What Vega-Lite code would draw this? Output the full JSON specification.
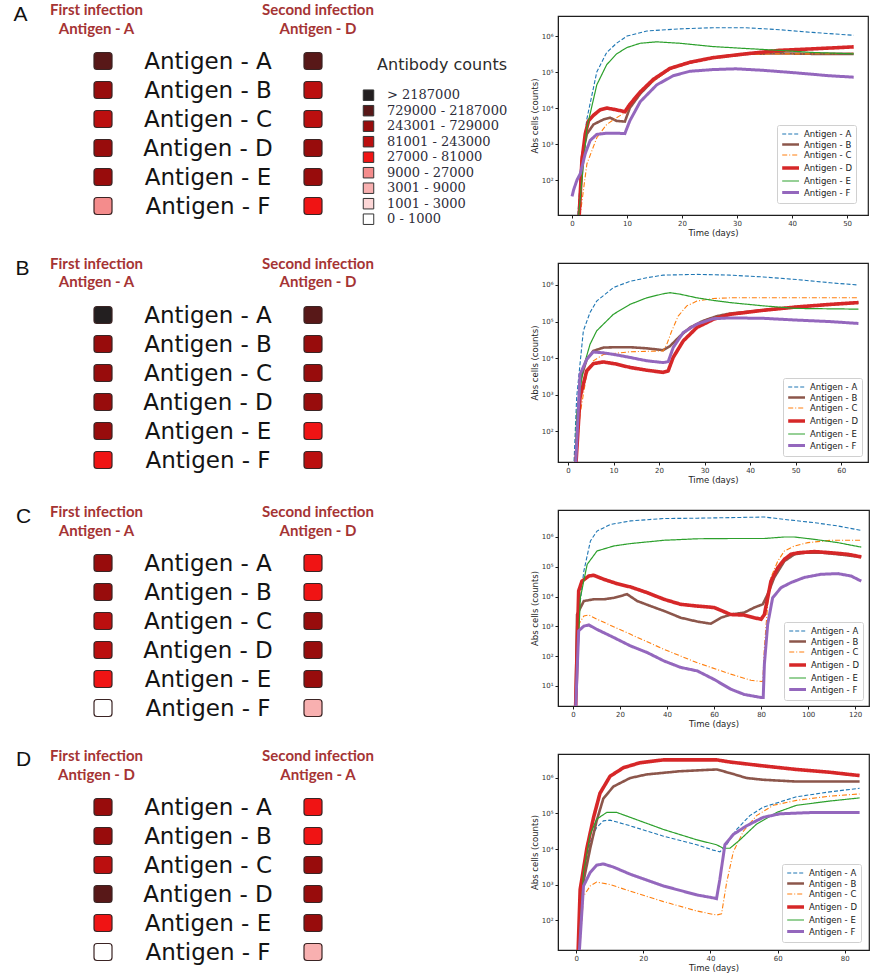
{
  "$schema": "https://vega.github.io/schema/vega-lite/v6.json",
  "padding": {"top": 2, "left": 0, "right": 0, "bottom": 0},
  "background": "white",
  "bounds": "flush",
  "columns": 2,
  "spacing": {"row": 48, "column": 142},
  "config": {"view": {"stroke": null}, "font": "DejaVu Sans"},
  "resolve": {"scale": {"color": "independent", "strokeDash": "independent", "strokeWidth": "independent"}, "legend": {"color": "independent", "strokeDash": "independent", "strokeWidth": "independent"}},
  "datasets": {
    "sq": [
      {"panel": "A", "antigen": "Antigen - A", "infection": "first", "bin": "729000 - 2187000"},
      {"panel": "A", "antigen": "Antigen - B", "infection": "first", "bin": "243001 - 729000"},
      {"panel": "A", "antigen": "Antigen - C", "infection": "first", "bin": "81001 - 243000"},
      {"panel": "A", "antigen": "Antigen - D", "infection": "first", "bin": "243001 - 729000"},
      {"panel": "A", "antigen": "Antigen - E", "infection": "first", "bin": "243001 - 729000"},
      {"panel": "A", "antigen": "Antigen - F", "infection": "first", "bin": "9000 - 27000"},
      {"panel": "A", "antigen": "Antigen - A", "infection": "second", "bin": "729000 - 2187000"},
      {"panel": "A", "antigen": "Antigen - B", "infection": "second", "bin": "81001 - 243000"},
      {"panel": "A", "antigen": "Antigen - C", "infection": "second", "bin": "81001 - 243000"},
      {"panel": "A", "antigen": "Antigen - D", "infection": "second", "bin": "243001 - 729000"},
      {"panel": "A", "antigen": "Antigen - E", "infection": "second", "bin": "243001 - 729000"},
      {"panel": "A", "antigen": "Antigen - F", "infection": "second", "bin": "27000 - 81000"},
      {"panel": "B", "antigen": "Antigen - A", "infection": "first", "bin": "> 2187000"},
      {"panel": "B", "antigen": "Antigen - B", "infection": "first", "bin": "243001 - 729000"},
      {"panel": "B", "antigen": "Antigen - C", "infection": "first", "bin": "243001 - 729000"},
      {"panel": "B", "antigen": "Antigen - D", "infection": "first", "bin": "243001 - 729000"},
      {"panel": "B", "antigen": "Antigen - E", "infection": "first", "bin": "243001 - 729000"},
      {"panel": "B", "antigen": "Antigen - F", "infection": "first", "bin": "27000 - 81000"},
      {"panel": "B", "antigen": "Antigen - A", "infection": "second", "bin": "729000 - 2187000"},
      {"panel": "B", "antigen": "Antigen - B", "infection": "second", "bin": "243001 - 729000"},
      {"panel": "B", "antigen": "Antigen - C", "infection": "second", "bin": "243001 - 729000"},
      {"panel": "B", "antigen": "Antigen - D", "infection": "second", "bin": "243001 - 729000"},
      {"panel": "B", "antigen": "Antigen - E", "infection": "second", "bin": "27000 - 81000"},
      {"panel": "B", "antigen": "Antigen - F", "infection": "second", "bin": "81001 - 243000"},
      {"panel": "C", "antigen": "Antigen - A", "infection": "first", "bin": "243001 - 729000"},
      {"panel": "C", "antigen": "Antigen - B", "infection": "first", "bin": "243001 - 729000"},
      {"panel": "C", "antigen": "Antigen - C", "infection": "first", "bin": "81001 - 243000"},
      {"panel": "C", "antigen": "Antigen - D", "infection": "first", "bin": "81001 - 243000"},
      {"panel": "C", "antigen": "Antigen - E", "infection": "first", "bin": "27000 - 81000"},
      {"panel": "C", "antigen": "Antigen - F", "infection": "first", "bin": "0 - 1000"},
      {"panel": "C", "antigen": "Antigen - A", "infection": "second", "bin": "27000 - 81000"},
      {"panel": "C", "antigen": "Antigen - B", "infection": "second", "bin": "27000 - 81000"},
      {"panel": "C", "antigen": "Antigen - C", "infection": "second", "bin": "243001 - 729000"},
      {"panel": "C", "antigen": "Antigen - D", "infection": "second", "bin": "243001 - 729000"},
      {"panel": "C", "antigen": "Antigen - E", "infection": "second", "bin": "243001 - 729000"},
      {"panel": "C", "antigen": "Antigen - F", "infection": "second", "bin": "3001 - 9000"},
      {"panel": "D", "antigen": "Antigen - A", "infection": "first", "bin": "243001 - 729000"},
      {"panel": "D", "antigen": "Antigen - B", "infection": "first", "bin": "243001 - 729000"},
      {"panel": "D", "antigen": "Antigen - C", "infection": "first", "bin": "81001 - 243000"},
      {"panel": "D", "antigen": "Antigen - D", "infection": "first", "bin": "729000 - 2187000"},
      {"panel": "D", "antigen": "Antigen - E", "infection": "first", "bin": "27000 - 81000"},
      {"panel": "D", "antigen": "Antigen - F", "infection": "first", "bin": "0 - 1000"},
      {"panel": "D", "antigen": "Antigen - A", "infection": "second", "bin": "27000 - 81000"},
      {"panel": "D", "antigen": "Antigen - B", "infection": "second", "bin": "27000 - 81000"},
      {"panel": "D", "antigen": "Antigen - C", "infection": "second", "bin": "243001 - 729000"},
      {"panel": "D", "antigen": "Antigen - D", "infection": "second", "bin": "243001 - 729000"},
      {"panel": "D", "antigen": "Antigen - E", "infection": "second", "bin": "243001 - 729000"},
      {"panel": "D", "antigen": "Antigen - F", "infection": "second", "bin": "3001 - 9000"}
    ],
    "curvesA": [
      {"antigen": "Antigen - A", "day": 0.9, "count": 5}, {"antigen": "Antigen - A", "day": 1.8, "count": 400}, {"antigen": "Antigen - A", "day": 2.7, "count": 5000}, {"antigen": "Antigen - A", "day": 4.5, "count": 100000}, {"antigen": "Antigen - A", "day": 6.3, "count": 350000}, {"antigen": "Antigen - A", "day": 8.1, "count": 630000}, {"antigen": "Antigen - A", "day": 10, "count": 1000000}, {"antigen": "Antigen - A", "day": 13.6, "count": 1380000}, {"antigen": "Antigen - A", "day": 19.6, "count": 1580000}, {"antigen": "Antigen - A", "day": 25.6, "count": 1700000}, {"antigen": "Antigen - A", "day": 31.6, "count": 1700000}, {"antigen": "Antigen - A", "day": 37.7, "count": 1500000}, {"antigen": "Antigen - A", "day": 43.7, "count": 1260000}, {"antigen": "Antigen - A", "day": 51.2, "count": 1050000},
      {"antigen": "Antigen - B", "day": 1.2, "count": 5}, {"antigen": "Antigen - B", "day": 1.8, "count": 440}, {"antigen": "Antigen - B", "day": 2.7, "count": 1900}, {"antigen": "Antigen - B", "day": 3.9, "count": 3500}, {"antigen": "Antigen - B", "day": 5.7, "count": 4800}, {"antigen": "Antigen - B", "day": 6.9, "count": 5400}, {"antigen": "Antigen - B", "day": 8.1, "count": 4400}, {"antigen": "Antigen - B", "day": 9.6, "count": 4200}, {"antigen": "Antigen - B", "day": 10.5, "count": 10000}, {"antigen": "Antigen - B", "day": 12.4, "count": 25000}, {"antigen": "Antigen - B", "day": 14.8, "count": 59000}, {"antigen": "Antigen - B", "day": 17.8, "count": 126000}, {"antigen": "Antigen - B", "day": 21.4, "count": 186000}, {"antigen": "Antigen - B", "day": 25.6, "count": 250000}, {"antigen": "Antigen - B", "day": 31.6, "count": 320000}, {"antigen": "Antigen - B", "day": 37.7, "count": 330000}, {"antigen": "Antigen - B", "day": 43.7, "count": 320000}, {"antigen": "Antigen - B", "day": 51.2, "count": 320000},
      {"antigen": "Antigen - C", "day": 1.2, "count": 5}, {"antigen": "Antigen - C", "day": 2.7, "count": 280}, {"antigen": "Antigen - C", "day": 4.5, "count": 1500}, {"antigen": "Antigen - C", "day": 6.3, "count": 3500}, {"antigen": "Antigen - C", "day": 8.1, "count": 5400}, {"antigen": "Antigen - C", "day": 9.9, "count": 7900}, {"antigen": "Antigen - C", "day": 11.7, "count": 23000}, {"antigen": "Antigen - C", "day": 14.8, "count": 55000}, {"antigen": "Antigen - C", "day": 17.8, "count": 120000}, {"antigen": "Antigen - C", "day": 21.4, "count": 180000}, {"antigen": "Antigen - C", "day": 25.6, "count": 250000}, {"antigen": "Antigen - C", "day": 31.6, "count": 310000}, {"antigen": "Antigen - C", "day": 37.7, "count": 320000}, {"antigen": "Antigen - C", "day": 43.7, "count": 320000}, {"antigen": "Antigen - C", "day": 51.2, "count": 330000},
      {"antigen": "Antigen - D", "day": 1.2, "count": 5}, {"antigen": "Antigen - D", "day": 1.8, "count": 350}, {"antigen": "Antigen - D", "day": 2.4, "count": 1900}, {"antigen": "Antigen - D", "day": 3.0, "count": 4400}, {"antigen": "Antigen - D", "day": 3.9, "count": 6300}, {"antigen": "Antigen - D", "day": 5.1, "count": 8900}, {"antigen": "Antigen - D", "day": 6.3, "count": 10000}, {"antigen": "Antigen - D", "day": 8.1, "count": 8900}, {"antigen": "Antigen - D", "day": 9.6, "count": 7900}, {"antigen": "Antigen - D", "day": 10.5, "count": 12600}, {"antigen": "Antigen - D", "day": 12.4, "count": 28000}, {"antigen": "Antigen - D", "day": 14.8, "count": 63000}, {"antigen": "Antigen - D", "day": 17.8, "count": 126000}, {"antigen": "Antigen - D", "day": 21.4, "count": 186000}, {"antigen": "Antigen - D", "day": 25.6, "count": 250000}, {"antigen": "Antigen - D", "day": 31.6, "count": 320000}, {"antigen": "Antigen - D", "day": 37.7, "count": 400000}, {"antigen": "Antigen - D", "day": 43.7, "count": 440000}, {"antigen": "Antigen - D", "day": 51.2, "count": 500000},
      {"antigen": "Antigen - E", "day": 1.0, "count": 5}, {"antigen": "Antigen - E", "day": 2.7, "count": 2800}, {"antigen": "Antigen - E", "day": 4.5, "count": 44000}, {"antigen": "Antigen - E", "day": 6.3, "count": 160000}, {"antigen": "Antigen - E", "day": 8.1, "count": 320000}, {"antigen": "Antigen - E", "day": 10, "count": 480000}, {"antigen": "Antigen - E", "day": 12.4, "count": 630000}, {"antigen": "Antigen - E", "day": 15.4, "count": 690000}, {"antigen": "Antigen - E", "day": 19.6, "count": 630000}, {"antigen": "Antigen - E", "day": 25.6, "count": 510000}, {"antigen": "Antigen - E", "day": 31.6, "count": 450000}, {"antigen": "Antigen - E", "day": 37.7, "count": 400000}, {"antigen": "Antigen - E", "day": 43.7, "count": 350000}, {"antigen": "Antigen - E", "day": 51.2, "count": 320000},
      {"antigen": "Antigen - F", "day": 0, "count": 35}, {"antigen": "Antigen - F", "day": 0.3, "count": 54}, {"antigen": "Antigen - F", "day": 0.9, "count": 100}, {"antigen": "Antigen - F", "day": 1.5, "count": 150}, {"antigen": "Antigen - F", "day": 2.4, "count": 540}, {"antigen": "Antigen - F", "day": 3.3, "count": 1260}, {"antigen": "Antigen - F", "day": 4.5, "count": 1860}, {"antigen": "Antigen - F", "day": 6.3, "count": 2000}, {"antigen": "Antigen - F", "day": 8.1, "count": 2000}, {"antigen": "Antigen - F", "day": 9.6, "count": 1950}, {"antigen": "Antigen - F", "day": 10.5, "count": 4400}, {"antigen": "Antigen - F", "day": 12.4, "count": 15000}, {"antigen": "Antigen - F", "day": 15.4, "count": 44000}, {"antigen": "Antigen - F", "day": 18.4, "count": 79000}, {"antigen": "Antigen - F", "day": 21.4, "count": 105000}, {"antigen": "Antigen - F", "day": 25.6, "count": 117000}, {"antigen": "Antigen - F", "day": 29.8, "count": 123000}, {"antigen": "Antigen - F", "day": 34.6, "count": 112000}, {"antigen": "Antigen - F", "day": 40.7, "count": 95000}, {"antigen": "Antigen - F", "day": 46.7, "count": 79000}, {"antigen": "Antigen - F", "day": 51.2, "count": 72000}
    ],
    "curvesB": [
      {"antigen": "Antigen - A", "day": 1.17, "count": 5}, {"antigen": "Antigen - A", "day": 1.9, "count": 850}, {"antigen": "Antigen - A", "day": 3.37, "count": 56000}, {"antigen": "Antigen - A", "day": 4.84, "count": 178000}, {"antigen": "Antigen - A", "day": 6.3, "count": 363000}, {"antigen": "Antigen - A", "day": 9.96, "count": 851000}, {"antigen": "Antigen - A", "day": 13.6, "count": 1260000}, {"antigen": "Antigen - A", "day": 17.3, "count": 1580000}, {"antigen": "Antigen - A", "day": 20.9, "count": 1860000}, {"antigen": "Antigen - A", "day": 28.3, "count": 1950000}, {"antigen": "Antigen - A", "day": 35.6, "count": 1860000}, {"antigen": "Antigen - A", "day": 42.9, "count": 1660000}, {"antigen": "Antigen - A", "day": 50.2, "count": 1410000}, {"antigen": "Antigen - A", "day": 57.6, "count": 1150000}, {"antigen": "Antigen - A", "day": 63.8, "count": 1000000},
      {"antigen": "Antigen - B", "day": 1.53, "count": 5}, {"antigen": "Antigen - B", "day": 2.64, "count": 2400}, {"antigen": "Antigen - B", "day": 4.1, "count": 9300}, {"antigen": "Antigen - B", "day": 5.57, "count": 15800}, {"antigen": "Antigen - B", "day": 7.77, "count": 19500}, {"antigen": "Antigen - B", "day": 10.7, "count": 20000}, {"antigen": "Antigen - B", "day": 13.6, "count": 20000}, {"antigen": "Antigen - B", "day": 17.3, "count": 18600}, {"antigen": "Antigen - B", "day": 20.9, "count": 16600}, {"antigen": "Antigen - B", "day": 22.4, "count": 21400}, {"antigen": "Antigen - B", "day": 24.6, "count": 40000}, {"antigen": "Antigen - B", "day": 26.8, "count": 69000}, {"antigen": "Antigen - B", "day": 29.7, "count": 105000}, {"antigen": "Antigen - B", "day": 32.7, "count": 141000}, {"antigen": "Antigen - B", "day": 35.6, "count": 166000}, {"antigen": "Antigen - B", "day": 42.9, "count": 204000}, {"antigen": "Antigen - B", "day": 50.2, "count": 251000}, {"antigen": "Antigen - B", "day": 57.6, "count": 295000}, {"antigen": "Antigen - B", "day": 63.8, "count": 331000},
      {"antigen": "Antigen - C", "day": 1.53, "count": 5}, {"antigen": "Antigen - C", "day": 2.64, "count": 295}, {"antigen": "Antigen - C", "day": 4.1, "count": 3600}, {"antigen": "Antigen - C", "day": 5.57, "count": 8500}, {"antigen": "Antigen - C", "day": 7.77, "count": 12600}, {"antigen": "Antigen - C", "day": 13.6, "count": 15000}, {"antigen": "Antigen - C", "day": 20.9, "count": 15800}, {"antigen": "Antigen - C", "day": 21.7, "count": 24000}, {"antigen": "Antigen - C", "day": 22.8, "count": 56000}, {"antigen": "Antigen - C", "day": 24.2, "count": 141000}, {"antigen": "Antigen - C", "day": 26.1, "count": 269000}, {"antigen": "Antigen - C", "day": 28.3, "count": 363000}, {"antigen": "Antigen - C", "day": 31.9, "count": 427000}, {"antigen": "Antigen - C", "day": 35.6, "count": 447000}, {"antigen": "Antigen - C", "day": 63.8, "count": 447000},
      {"antigen": "Antigen - D", "day": 1.53, "count": 5}, {"antigen": "Antigen - D", "day": 2.64, "count": 850}, {"antigen": "Antigen - D", "day": 4.1, "count": 4500}, {"antigen": "Antigen - D", "day": 5.57, "count": 7100}, {"antigen": "Antigen - D", "day": 7.77, "count": 7900}, {"antigen": "Antigen - D", "day": 10.7, "count": 6900}, {"antigen": "Antigen - D", "day": 13.6, "count": 5600}, {"antigen": "Antigen - D", "day": 17.3, "count": 4700}, {"antigen": "Antigen - D", "day": 20.9, "count": 4100}, {"antigen": "Antigen - D", "day": 22.0, "count": 4500}, {"antigen": "Antigen - D", "day": 23.1, "count": 10500}, {"antigen": "Antigen - D", "day": 25.3, "count": 29500}, {"antigen": "Antigen - D", "day": 28.3, "count": 69000}, {"antigen": "Antigen - D", "day": 31.9, "count": 115000}, {"antigen": "Antigen - D", "day": 35.6, "count": 158000}, {"antigen": "Antigen - D", "day": 42.9, "count": 204000}, {"antigen": "Antigen - D", "day": 50.2, "count": 251000}, {"antigen": "Antigen - D", "day": 57.6, "count": 295000}, {"antigen": "Antigen - D", "day": 63.8, "count": 331000},
      {"antigen": "Antigen - E", "day": 1.5, "count": 5}, {"antigen": "Antigen - E", "day": 1.9, "count": 295}, {"antigen": "Antigen - E", "day": 3.37, "count": 5600}, {"antigen": "Antigen - E", "day": 4.84, "count": 24000}, {"antigen": "Antigen - E", "day": 6.3, "count": 56000}, {"antigen": "Antigen - E", "day": 9.96, "count": 158000}, {"antigen": "Antigen - E", "day": 13.6, "count": 295000}, {"antigen": "Antigen - E", "day": 17.3, "count": 447000}, {"antigen": "Antigen - E", "day": 20.9, "count": 575000}, {"antigen": "Antigen - E", "day": 22.4, "count": 617000}, {"antigen": "Antigen - E", "day": 24.6, "count": 562000}, {"antigen": "Antigen - E", "day": 28.3, "count": 447000}, {"antigen": "Antigen - E", "day": 31.9, "count": 380000}, {"antigen": "Antigen - E", "day": 35.6, "count": 331000}, {"antigen": "Antigen - E", "day": 42.9, "count": 269000}, {"antigen": "Antigen - E", "day": 50.2, "count": 229000}, {"antigen": "Antigen - E", "day": 63.8, "count": 219000},
      {"antigen": "Antigen - F", "day": 1.53, "count": 5}, {"antigen": "Antigen - F", "day": 2.64, "count": 3600}, {"antigen": "Antigen - F", "day": 4.1, "count": 9300}, {"antigen": "Antigen - F", "day": 5.57, "count": 14800}, {"antigen": "Antigen - F", "day": 7.77, "count": 14000}, {"antigen": "Antigen - F", "day": 10.7, "count": 12300}, {"antigen": "Antigen - F", "day": 13.6, "count": 10500}, {"antigen": "Antigen - F", "day": 17.3, "count": 8500}, {"antigen": "Antigen - F", "day": 20.9, "count": 7600}, {"antigen": "Antigen - F", "day": 22.0, "count": 8000}, {"antigen": "Antigen - F", "day": 23.1, "count": 19500}, {"antigen": "Antigen - F", "day": 25.3, "count": 50000}, {"antigen": "Antigen - F", "day": 28.3, "count": 85000}, {"antigen": "Antigen - F", "day": 31.9, "count": 120000}, {"antigen": "Antigen - F", "day": 35.6, "count": 126000}, {"antigen": "Antigen - F", "day": 42.9, "count": 123000}, {"antigen": "Antigen - F", "day": 50.2, "count": 110000}, {"antigen": "Antigen - F", "day": 57.6, "count": 100000}, {"antigen": "Antigen - F", "day": 63.8, "count": 89000}
    ],
    "curvesC": [
      {"antigen": "Antigen - A", "day": 1.0, "count": 1}, {"antigen": "Antigen - A", "day": 2.4, "count": 2500}, {"antigen": "Antigen - A", "day": 4.6, "count": 72000}, {"antigen": "Antigen - A", "day": 7.4, "count": 741000}, {"antigen": "Antigen - A", "day": 10.2, "count": 1580000}, {"antigen": "Antigen - A", "day": 15.9, "count": 2630000}, {"antigen": "Antigen - A", "day": 24.5, "count": 3470000}, {"antigen": "Antigen - A", "day": 38.7, "count": 4170000}, {"antigen": "Antigen - A", "day": 52.9, "count": 4270000}, {"antigen": "Antigen - A", "day": 67.1, "count": 4470000}, {"antigen": "Antigen - A", "day": 81.4, "count": 4680000}, {"antigen": "Antigen - A", "day": 89.9, "count": 3890000}, {"antigen": "Antigen - A", "day": 102.7, "count": 3020000}, {"antigen": "Antigen - A", "day": 112.7, "count": 2340000}, {"antigen": "Antigen - A", "day": 122.6, "count": 1660000},
      {"antigen": "Antigen - B", "day": 1.0, "count": 1}, {"antigen": "Antigen - B", "day": 1.7, "count": 2500}, {"antigen": "Antigen - B", "day": 4.6, "count": 7100}, {"antigen": "Antigen - B", "day": 8.8, "count": 8100}, {"antigen": "Antigen - B", "day": 13.1, "count": 8100}, {"antigen": "Antigen - B", "day": 17.4, "count": 9100}, {"antigen": "Antigen - B", "day": 23.0, "count": 12000}, {"antigen": "Antigen - B", "day": 27.3, "count": 7100}, {"antigen": "Antigen - B", "day": 33.0, "count": 4800}, {"antigen": "Antigen - B", "day": 38.7, "count": 3300}, {"antigen": "Antigen - B", "day": 45.8, "count": 1950}, {"antigen": "Antigen - B", "day": 52.9, "count": 1450}, {"antigen": "Antigen - B", "day": 58.6, "count": 1230}, {"antigen": "Antigen - B", "day": 62.9, "count": 1950}, {"antigen": "Antigen - B", "day": 67.1, "count": 2500}, {"antigen": "Antigen - B", "day": 72.8, "count": 2900}, {"antigen": "Antigen - B", "day": 77.1, "count": 4300}, {"antigen": "Antigen - B", "day": 80.7, "count": 5500}, {"antigen": "Antigen - B", "day": 82.8, "count": 12000}, {"antigen": "Antigen - B", "day": 85.6, "count": 44000}, {"antigen": "Antigen - B", "day": 89.9, "count": 155000}, {"antigen": "Antigen - B", "day": 94.2, "count": 263000}, {"antigen": "Antigen - B", "day": 98.4, "count": 295000}, {"antigen": "Antigen - B", "day": 105.5, "count": 300000}, {"antigen": "Antigen - B", "day": 112.7, "count": 263000}, {"antigen": "Antigen - B", "day": 122.6, "count": 214000},
      {"antigen": "Antigen - C", "day": 1.0, "count": 1}, {"antigen": "Antigen - C", "day": 2.4, "count": 1170}, {"antigen": "Antigen - C", "day": 4.6, "count": 2240}, {"antigen": "Antigen - C", "day": 6.7, "count": 2400}, {"antigen": "Antigen - C", "day": 10.2, "count": 1740}, {"antigen": "Antigen - C", "day": 24.5, "count": 540}, {"antigen": "Antigen - C", "day": 38.7, "count": 170}, {"antigen": "Antigen - C", "day": 52.9, "count": 60}, {"antigen": "Antigen - C", "day": 67.1, "count": 25}, {"antigen": "Antigen - C", "day": 75.7, "count": 15.5}, {"antigen": "Antigen - C", "day": 80.7, "count": 14}, {"antigen": "Antigen - C", "day": 81.4, "count": 195}, {"antigen": "Antigen - C", "day": 82.8, "count": 5500}, {"antigen": "Antigen - C", "day": 84.2, "count": 44000}, {"antigen": "Antigen - C", "day": 87.1, "count": 155000}, {"antigen": "Antigen - C", "day": 89.9, "count": 339000}, {"antigen": "Antigen - C", "day": 94.2, "count": 501000}, {"antigen": "Antigen - C", "day": 99.9, "count": 646000}, {"antigen": "Antigen - C", "day": 109.8, "count": 776000}, {"antigen": "Antigen - C", "day": 122.6, "count": 776000},
      {"antigen": "Antigen - D", "day": 1.0, "count": 1}, {"antigen": "Antigen - D", "day": 2.4, "count": 15500}, {"antigen": "Antigen - D", "day": 3.8, "count": 33000}, {"antigen": "Antigen - D", "day": 6.7, "count": 49000}, {"antigen": "Antigen - D", "day": 8.8, "count": 52000}, {"antigen": "Antigen - D", "day": 13.1, "count": 38000}, {"antigen": "Antigen - D", "day": 18.8, "count": 27000}, {"antigen": "Antigen - D", "day": 24.5, "count": 21000}, {"antigen": "Antigen - D", "day": 31.6, "count": 13500}, {"antigen": "Antigen - D", "day": 38.7, "count": 8100}, {"antigen": "Antigen - D", "day": 45.8, "count": 5500}, {"antigen": "Antigen - D", "day": 52.9, "count": 4800}, {"antigen": "Antigen - D", "day": 60.0, "count": 4300}, {"antigen": "Antigen - D", "day": 67.1, "count": 2500}, {"antigen": "Antigen - D", "day": 72.8, "count": 2400}, {"antigen": "Antigen - D", "day": 77.1, "count": 1950}, {"antigen": "Antigen - D", "day": 80.0, "count": 1740}, {"antigen": "Antigen - D", "day": 81.4, "count": 2500}, {"antigen": "Antigen - D", "day": 82.8, "count": 9100}, {"antigen": "Antigen - D", "day": 84.2, "count": 33000}, {"antigen": "Antigen - D", "day": 87.1, "count": 93000}, {"antigen": "Antigen - D", "day": 89.9, "count": 178000}, {"antigen": "Antigen - D", "day": 92.7, "count": 263000}, {"antigen": "Antigen - D", "day": 95.6, "count": 295000}, {"antigen": "Antigen - D", "day": 102.7, "count": 324000}, {"antigen": "Antigen - D", "day": 109.8, "count": 295000}, {"antigen": "Antigen - D", "day": 116.9, "count": 263000}, {"antigen": "Antigen - D", "day": 122.6, "count": 214000},
      {"antigen": "Antigen - E", "day": 1.0, "count": 1}, {"antigen": "Antigen - E", "day": 3.1, "count": 9100}, {"antigen": "Antigen - E", "day": 6.0, "count": 120000}, {"antigen": "Antigen - E", "day": 10.2, "count": 339000}, {"antigen": "Antigen - E", "day": 17.4, "count": 501000}, {"antigen": "Antigen - E", "day": 24.5, "count": 603000}, {"antigen": "Antigen - E", "day": 38.7, "count": 776000}, {"antigen": "Antigen - E", "day": 52.9, "count": 871000}, {"antigen": "Antigen - E", "day": 67.1, "count": 890000}, {"antigen": "Antigen - E", "day": 81.4, "count": 890000}, {"antigen": "Antigen - E", "day": 89.9, "count": 1000000}, {"antigen": "Antigen - E", "day": 94.2, "count": 1000000}, {"antigen": "Antigen - E", "day": 102.7, "count": 832000}, {"antigen": "Antigen - E", "day": 112.7, "count": 646000}, {"antigen": "Antigen - E", "day": 122.6, "count": 457000},
      {"antigen": "Antigen - F", "day": 1.0, "count": 1}, {"antigen": "Antigen - F", "day": 2.4, "count": 710}, {"antigen": "Antigen - F", "day": 4.6, "count": 1020}, {"antigen": "Antigen - F", "day": 6.7, "count": 1120}, {"antigen": "Antigen - F", "day": 10.2, "count": 790}, {"antigen": "Antigen - F", "day": 17.4, "count": 420}, {"antigen": "Antigen - F", "day": 24.5, "count": 220}, {"antigen": "Antigen - F", "day": 31.6, "count": 132}, {"antigen": "Antigen - F", "day": 38.7, "count": 69}, {"antigen": "Antigen - F", "day": 45.8, "count": 42}, {"antigen": "Antigen - F", "day": 52.9, "count": 32}, {"antigen": "Antigen - F", "day": 60.0, "count": 16.6}, {"antigen": "Antigen - F", "day": 67.1, "count": 7.8}, {"antigen": "Antigen - F", "day": 72.8, "count": 5.2}, {"antigen": "Antigen - F", "day": 80.0, "count": 4.1}, {"antigen": "Antigen - F", "day": 80.9, "count": 4.1}, {"antigen": "Antigen - F", "day": 81.4, "count": 54}, {"antigen": "Antigen - F", "day": 82.8, "count": 1170}, {"antigen": "Antigen - F", "day": 84.9, "count": 9100}, {"antigen": "Antigen - F", "day": 88.5, "count": 20000}, {"antigen": "Antigen - F", "day": 92.7, "count": 29500}, {"antigen": "Antigen - F", "day": 98.4, "count": 44000}, {"antigen": "Antigen - F", "day": 105.5, "count": 56000}, {"antigen": "Antigen - F", "day": 112.7, "count": 59000}, {"antigen": "Antigen - F", "day": 118.3, "count": 49000}, {"antigen": "Antigen - F", "day": 122.6, "count": 33000}
    ],
    "curvesD": [
      {"antigen": "Antigen - A", "day": 0.2, "count": 1}, {"antigen": "Antigen - A", "day": 2.2, "count": 1410}, {"antigen": "Antigen - A", "day": 4.2, "count": 16200}, {"antigen": "Antigen - A", "day": 6.1, "count": 40000}, {"antigen": "Antigen - A", "day": 8.1, "count": 62000}, {"antigen": "Antigen - A", "day": 10.1, "count": 65000}, {"antigen": "Antigen - A", "day": 16.1, "count": 45000}, {"antigen": "Antigen - A", "day": 26.0, "count": 23000}, {"antigen": "Antigen - A", "day": 35.9, "count": 13200}, {"antigen": "Antigen - A", "day": 40.8, "count": 9300}, {"antigen": "Antigen - A", "day": 42.8, "count": 8300}, {"antigen": "Antigen - A", "day": 44.8, "count": 13200}, {"antigen": "Antigen - A", "day": 47.8, "count": 35500}, {"antigen": "Antigen - A", "day": 51.7, "count": 87000}, {"antigen": "Antigen - A", "day": 55.7, "count": 151000}, {"antigen": "Antigen - A", "day": 65.6, "count": 295000}, {"antigen": "Antigen - A", "day": 75.5, "count": 407000}, {"antigen": "Antigen - A", "day": 84.4, "count": 513000},
      {"antigen": "Antigen - B", "day": 0.2, "count": 1}, {"antigen": "Antigen - B", "day": 1.7, "count": 720}, {"antigen": "Antigen - B", "day": 4.2, "count": 10500}, {"antigen": "Antigen - B", "day": 6.1, "count": 62000}, {"antigen": "Antigen - B", "day": 8.1, "count": 263000}, {"antigen": "Antigen - B", "day": 11.1, "count": 575000}, {"antigen": "Antigen - B", "day": 16.1, "count": 1000000}, {"antigen": "Antigen - B", "day": 21.0, "count": 1260000}, {"antigen": "Antigen - B", "day": 30.9, "count": 1550000}, {"antigen": "Antigen - B", "day": 41.8, "count": 1740000}, {"antigen": "Antigen - B", "day": 45.8, "count": 1380000}, {"antigen": "Antigen - B", "day": 50.7, "count": 1000000}, {"antigen": "Antigen - B", "day": 55.7, "count": 891000}, {"antigen": "Antigen - B", "day": 65.6, "count": 794000}, {"antigen": "Antigen - B", "day": 84.4, "count": 794000},
      {"antigen": "Antigen - C", "day": 0.2, "count": 1}, {"antigen": "Antigen - C", "day": 2.2, "count": 470}, {"antigen": "Antigen - C", "day": 4.2, "count": 910}, {"antigen": "Antigen - C", "day": 6.1, "count": 1170}, {"antigen": "Antigen - C", "day": 10.1, "count": 1000}, {"antigen": "Antigen - C", "day": 16.1, "count": 650}, {"antigen": "Antigen - C", "day": 26.0, "count": 330}, {"antigen": "Antigen - C", "day": 35.9, "count": 180}, {"antigen": "Antigen - C", "day": 41.8, "count": 138}, {"antigen": "Antigen - C", "day": 43.3, "count": 150}, {"antigen": "Antigen - C", "day": 44.8, "count": 1120}, {"antigen": "Antigen - C", "day": 46.8, "count": 8300}, {"antigen": "Antigen - C", "day": 49.8, "count": 31600}, {"antigen": "Antigen - C", "day": 53.7, "count": 87000}, {"antigen": "Antigen - C", "day": 58.7, "count": 170000}, {"antigen": "Antigen - C", "day": 65.6, "count": 234000}, {"antigen": "Antigen - C", "day": 75.5, "count": 309000}, {"antigen": "Antigen - C", "day": 84.4, "count": 355000},
      {"antigen": "Antigen - D", "day": 0.2, "count": 1}, {"antigen": "Antigen - D", "day": 1.2, "count": 720}, {"antigen": "Antigen - D", "day": 3.2, "count": 10500}, {"antigen": "Antigen - D", "day": 5.2, "count": 78000}, {"antigen": "Antigen - D", "day": 7.1, "count": 372000}, {"antigen": "Antigen - D", "day": 10.1, "count": 1120000}, {"antigen": "Antigen - D", "day": 14.1, "count": 1950000}, {"antigen": "Antigen - D", "day": 19.0, "count": 2690000}, {"antigen": "Antigen - D", "day": 26.0, "count": 3240000}, {"antigen": "Antigen - D", "day": 35.9, "count": 3240000}, {"antigen": "Antigen - D", "day": 41.8, "count": 3240000}, {"antigen": "Antigen - D", "day": 45.8, "count": 2820000}, {"antigen": "Antigen - D", "day": 55.7, "count": 2190000}, {"antigen": "Antigen - D", "day": 65.6, "count": 1740000}, {"antigen": "Antigen - D", "day": 75.5, "count": 1450000}, {"antigen": "Antigen - D", "day": 84.4, "count": 1170000},
      {"antigen": "Antigen - E", "day": 0.2, "count": 1}, {"antigen": "Antigen - E", "day": 2.2, "count": 2200}, {"antigen": "Antigen - E", "day": 4.2, "count": 25700}, {"antigen": "Antigen - E", "day": 6.1, "count": 69000}, {"antigen": "Antigen - E", "day": 9.1, "count": 107000}, {"antigen": "Antigen - E", "day": 12.1, "count": 107000}, {"antigen": "Antigen - E", "day": 16.1, "count": 78000}, {"antigen": "Antigen - E", "day": 26.0, "count": 35500}, {"antigen": "Antigen - E", "day": 35.9, "count": 18200}, {"antigen": "Antigen - E", "day": 41.8, "count": 13200}, {"antigen": "Antigen - E", "day": 43.8, "count": 10500}, {"antigen": "Antigen - E", "day": 45.8, "count": 10500}, {"antigen": "Antigen - E", "day": 48.8, "count": 18200}, {"antigen": "Antigen - E", "day": 53.7, "count": 50000}, {"antigen": "Antigen - E", "day": 59.7, "count": 107000}, {"antigen": "Antigen - E", "day": 65.6, "count": 170000}, {"antigen": "Antigen - E", "day": 75.5, "count": 224000}, {"antigen": "Antigen - E", "day": 84.4, "count": 275000},
      {"antigen": "Antigen - F", "day": 0.2, "count": 1}, {"antigen": "Antigen - F", "day": 2.2, "count": 910}, {"antigen": "Antigen - F", "day": 4.2, "count": 2200}, {"antigen": "Antigen - F", "day": 6.1, "count": 3500}, {"antigen": "Antigen - F", "day": 8.1, "count": 3800}, {"antigen": "Antigen - F", "day": 11.1, "count": 3100}, {"antigen": "Antigen - F", "day": 16.1, "count": 1950}, {"antigen": "Antigen - F", "day": 26.0, "count": 910}, {"antigen": "Antigen - F", "day": 35.9, "count": 510}, {"antigen": "Antigen - F", "day": 40.8, "count": 420}, {"antigen": "Antigen - F", "day": 41.8, "count": 400}, {"antigen": "Antigen - F", "day": 42.8, "count": 1410}, {"antigen": "Antigen - F", "day": 44.3, "count": 13200}, {"antigen": "Antigen - F", "day": 46.8, "count": 25700}, {"antigen": "Antigen - F", "day": 50.7, "count": 44700}, {"antigen": "Antigen - F", "day": 55.7, "count": 78000}, {"antigen": "Antigen - F", "day": 60.7, "count": 98000}, {"antigen": "Antigen - F", "day": 70.6, "count": 107000}, {"antigen": "Antigen - F", "day": 84.4, "count": 107000}
    ]
  },
  "concat": [
    {
      "width": 416, "height": 199,
      "data": {"name": "sq"},
      "transform": [{"filter": "datum.panel == 'A'"}],
      "layer": [
        {
          "mark": {"type": "rect", "width": 18, "height": 17, "cornerRadius": 3, "stroke": "#3b2424", "strokeWidth": 1.2},
          "encoding": {
            "x": {"field": "infection", "type": "nominal", "scale": {"type": "point", "domain": ["first", "mid", "second"], "padding": 0.981},
              "axis": {"orient": "top", "title": null, "domain": false, "ticks": false, "tickSize": 0, "grid": false, "labelAngle": 0, "labelAlign": "center", "labelBaseline": "alphabetic", "labelPadding": 1.9, "labelFont": "Lato", "labelFontWeight": "bold", "labelFontSize": 15, "labelLineHeight": 19.3, "labelColor": "#a53434", "labelOverlap": false, "labelBound": false, "labelFlush": false,
                "labelOffset": {"condition": {"test": "datum.value == 'first'", "value": -7}, "value": 4.5},
                "labelExpr": "datum.value == 'first' ? ['First infection', 'Antigen - A'] : datum.value == 'second' ? ['Second infection', 'Antigen - D'] : ''"}},
            "y": {"field": "antigen", "type": "nominal", "scale": {"type": "point", "domain": ["Antigen - A", "Antigen - B", "Antigen - C", "Antigen - D", "Antigen - E", "Antigen - F"], "range": [45, 190], "padding": 0},
              "axis": {"title": "A", "titleAngle": 0, "titleX": 20, "titleY": 4.9, "titleAlign": "center", "titleBaseline": "alphabetic", "titleFont": "Liberation Sans", "titleFontSize": 21, "titleFontWeight": "normal", "titleColor": "#111111", "labels": false, "ticks": false, "domain": false, "grid": false}},
            "color": {"field": "bin", "type": "ordinal",
              "scale": {"domain": ["> 2187000", "729000 - 2187000", "243001 - 729000", "81001 - 243000", "27000 - 81000", "9000 - 27000", "3001 - 9000", "1001 - 3000", "0 - 1000"], "range": ["#231f20", "#581818", "#980c0c", "#bb0f0f", "#f01414", "#f48c8c", "#f8b0b0", "#fcd6d6", "#ffffff"]},
              "legend": {"orient": "none", "legendX": 362, "legendY": 40.7, "title": "Antibody counts", "titleFont": "DejaVu Sans", "titleFontSize": 16, "titleFontWeight": "normal", "titleColor": "#2b2b2b", "titleAnchor": "end", "titlePadding": 16, "labelFont": "DejaVu Serif", "labelFontSize": 13, "labelColor": "#2d2d3a", "labelOffset": 12, "symbolType": "square", "symbolSize": 110, "symbolStrokeColor": "#333333", "symbolStrokeWidth": 1, "rowPadding": 0.5, "padding": 0}}
          }
        },
        {
          "transform": [{"filter": "datum.infection == 'first'"}],
          "mark": {"type": "text", "font": "DejaVu Sans", "fontSize": 23, "baseline": "alphabetic", "align": "center", "dy": 8, "color": "#141414"},
          "encoding": {"x": {"datum": "mid", "type": "nominal"}, "y": {"field": "antigen", "type": "nominal"}, "text": {"field": "antigen", "type": "nominal"}}
        }
      ]
    },
    {
      "width": 310, "height": 199,
      "view": {"stroke": "#1e1e1e", "strokeWidth": 1.2},
      "data": {"name": "curvesA"},
      "mark": {"type": "line", "clip": true},
      "encoding": {
        "x": {"field": "day", "type": "quantitative", "scale": {"domain": [-2.55, 53.8], "nice": false, "zero": false},
          "axis": {"title": "Time (days)", "values": [0, 10, 20, 30, 40, 50], "format": "d", "grid": false, "labelFont": "DejaVu Sans", "labelFontSize": 7, "labelColor": "#333333", "labelPadding": 1.5, "titleFont": "DejaVu Sans", "titleFontSize": 8.5, "titleFontWeight": "normal", "titleColor": "#1e1e1e", "titlePadding": 1.5, "tickSize": 3, "tickColor": "#1e1e1e", "domainColor": "#1e1e1e"}},
        "y": {"field": "count", "type": "quantitative", "scale": {"type": "log", "domain": [10.7, 3600000], "nice": false},
          "axis": {"title": "Abs cells (counts)", "values": [100, 1000, 10000, 100000, 1000000], "labelExpr": "'10' + ['⁰','¹','²','³','⁴','⁵','⁶','⁷'][round(log(datum.value) / LN10)]", "grid": false, "labelFont": "DejaVu Sans", "labelFontSize": 7, "labelColor": "#333333", "labelPadding": 2, "titleFont": "DejaVu Sans", "titleFontSize": 8.5, "titleFontWeight": "normal", "titleColor": "#1e1e1e", "titlePadding": 2, "tickSize": 3, "tickColor": "#1e1e1e", "domainColor": "#1e1e1e"}},
        "color": {"field": "antigen", "type": "nominal", "scale": {"domain": ["Antigen - A", "Antigen - B", "Antigen - C", "Antigen - D", "Antigen - E", "Antigen - F"], "range": ["#1f77b4", "#8c564b", "#ff7f0e", "#d62728", "#2ca02c", "#9467bd"]},
          "legend": {"orient": "bottom-right", "offset": 12, "title": null, "fillColor": "white", "strokeColor": "#d0d0d0", "cornerRadius": 2, "padding": 4, "labelFont": "DejaVu Sans", "labelFontSize": 8.5, "labelColor": "#222222", "labelOffset": 11, "symbolType": "M-1.2,0L3,0", "symbolSize": 64, "symbolStrokeWidth": 1.4, "symbolFillColor": "transparent", "rowPadding": 0}},
        "strokeDash": {"field": "antigen", "type": "nominal", "scale": {"domain": ["Antigen - A", "Antigen - B", "Antigen - C", "Antigen - D", "Antigen - E", "Antigen - F"], "range": [[4, 2], [1, 0], [5, 2, 1, 2], [1, 0], [1, 0], [1, 0]]},
          "legend": {"orient": "bottom-right", "offset": 12, "title": null, "fillColor": "white", "strokeColor": "#d0d0d0", "cornerRadius": 2, "padding": 4, "labelFont": "DejaVu Sans", "labelFontSize": 8.5, "labelColor": "#222222", "labelOffset": 11, "symbolType": "M-1.2,0L3,0", "symbolSize": 64, "symbolStrokeWidth": 1.4, "symbolFillColor": "transparent", "rowPadding": 0}},
        "strokeWidth": {"field": "antigen", "type": "nominal", "scale": {"type": "ordinal", "domain": ["Antigen - A", "Antigen - B", "Antigen - C", "Antigen - D", "Antigen - E", "Antigen - F"], "range": [1.1, 2.6, 1.1, 3.6, 1.2, 3.0]}, "legend": null}
      }
    },
    {
      "width": 416, "height": 199,
      "data": {"name": "sq"},
      "transform": [{"filter": "datum.panel == 'B'"}],
      "layer": [
        {
          "mark": {"type": "rect", "width": 18, "height": 17, "cornerRadius": 3, "stroke": "#3b2424", "strokeWidth": 1.2},
          "encoding": {
            "x": {"field": "infection", "type": "nominal", "scale": {"type": "point", "domain": ["first", "mid", "second"], "padding": 0.981},
              "axis": {"orient": "top", "title": null, "domain": false, "ticks": false, "tickSize": 0, "grid": false, "labelAngle": 0, "labelAlign": "center", "labelBaseline": "alphabetic", "labelPadding": -5.4, "labelFont": "Lato", "labelFontWeight": "bold", "labelFontSize": 15, "labelLineHeight": 18.5, "labelColor": "#a53434", "labelOverlap": false, "labelBound": false, "labelFlush": false,
                "labelOffset": {"condition": {"test": "datum.value == 'first'", "value": -7}, "value": 4.5},
                "labelExpr": "datum.value == 'first' ? ['First infection', 'Antigen - A'] : datum.value == 'second' ? ['Second infection', 'Antigen - D'] : ''"}},
            "y": {"field": "antigen", "type": "nominal", "scale": {"type": "point", "domain": ["Antigen - A", "Antigen - B", "Antigen - C", "Antigen - D", "Antigen - E", "Antigen - F"], "range": [52, 197], "padding": 0},
              "axis": {"title": "B", "titleAngle": 0, "titleX": 22, "titleY": 11.2, "titleAlign": "center", "titleBaseline": "alphabetic", "titleFont": "Liberation Sans", "titleFontSize": 21, "titleFontWeight": "normal", "titleColor": "#111111", "labels": false, "ticks": false, "domain": false, "grid": false}},
            "color": {"field": "bin", "type": "ordinal",
              "scale": {"domain": ["> 2187000", "729000 - 2187000", "243001 - 729000", "81001 - 243000", "27000 - 81000", "9000 - 27000", "3001 - 9000", "1001 - 3000", "0 - 1000"], "range": ["#231f20", "#581818", "#980c0c", "#bb0f0f", "#f01414", "#f48c8c", "#f8b0b0", "#fcd6d6", "#ffffff"]},
              "legend": null}
          }
        },
        {
          "transform": [{"filter": "datum.infection == 'first'"}],
          "mark": {"type": "text", "font": "DejaVu Sans", "fontSize": 23, "baseline": "alphabetic", "align": "center", "dy": 8, "color": "#141414"},
          "encoding": {"x": {"datum": "mid", "type": "nominal"}, "y": {"field": "antigen", "type": "nominal"}, "text": {"field": "antigen", "type": "nominal"}}
        }
      ]
    },
    {
      "width": 310, "height": 199,
      "view": {"stroke": "#1e1e1e", "strokeWidth": 1.2},
      "data": {"name": "curvesB"},
      "mark": {"type": "line", "clip": true},
      "encoding": {
        "x": {"field": "day", "type": "quantitative", "scale": {"domain": [-2.2, 65.9], "nice": false, "zero": false},
          "axis": {"title": "Time (days)", "values": [0, 10, 20, 30, 40, 50, 60], "format": "d", "grid": false, "labelFont": "DejaVu Sans", "labelFontSize": 7, "labelColor": "#333333", "labelPadding": 1.5, "titleFont": "DejaVu Sans", "titleFontSize": 8.5, "titleFontWeight": "normal", "titleColor": "#1e1e1e", "titlePadding": 1.5, "tickSize": 3, "tickColor": "#1e1e1e", "domainColor": "#1e1e1e"}},
        "y": {"field": "count", "type": "quantitative", "scale": {"type": "log", "domain": [14.6, 3990000], "nice": false},
          "axis": {"title": "Abs cells (counts)", "values": [100, 1000, 10000, 100000, 1000000], "labelExpr": "'10' + ['⁰','¹','²','³','⁴','⁵','⁶','⁷'][round(log(datum.value) / LN10)]", "grid": false, "labelFont": "DejaVu Sans", "labelFontSize": 7, "labelColor": "#333333", "labelPadding": 2, "titleFont": "DejaVu Sans", "titleFontSize": 8.5, "titleFontWeight": "normal", "titleColor": "#1e1e1e", "titlePadding": 2, "tickSize": 3, "tickColor": "#1e1e1e", "domainColor": "#1e1e1e"}},
        "color": {"field": "antigen", "type": "nominal", "scale": {"domain": ["Antigen - A", "Antigen - B", "Antigen - C", "Antigen - D", "Antigen - E", "Antigen - F"], "range": ["#1f77b4", "#8c564b", "#ff7f0e", "#d62728", "#2ca02c", "#9467bd"]},
          "legend": {"orient": "bottom-right", "offset": 6, "title": null, "fillColor": "white", "strokeColor": "#d0d0d0", "cornerRadius": 2, "padding": 4, "labelFont": "DejaVu Sans", "labelFontSize": 8.5, "labelColor": "#222222", "labelOffset": 11, "symbolType": "M-1.2,0L3,0", "symbolSize": 64, "symbolStrokeWidth": 1.4, "symbolFillColor": "transparent", "rowPadding": 0}},
        "strokeDash": {"field": "antigen", "type": "nominal", "scale": {"domain": ["Antigen - A", "Antigen - B", "Antigen - C", "Antigen - D", "Antigen - E", "Antigen - F"], "range": [[4, 2], [1, 0], [5, 2, 1, 2], [1, 0], [1, 0], [1, 0]]},
          "legend": {"orient": "bottom-right", "offset": 6, "title": null, "fillColor": "white", "strokeColor": "#d0d0d0", "cornerRadius": 2, "padding": 4, "labelFont": "DejaVu Sans", "labelFontSize": 8.5, "labelColor": "#222222", "labelOffset": 11, "symbolType": "M-1.2,0L3,0", "symbolSize": 64, "symbolStrokeWidth": 1.4, "symbolFillColor": "transparent", "rowPadding": 0}},
        "strokeWidth": {"field": "antigen", "type": "nominal", "scale": {"type": "ordinal", "domain": ["Antigen - A", "Antigen - B", "Antigen - C", "Antigen - D", "Antigen - E", "Antigen - F"], "range": [1.1, 2.6, 1.1, 3.6, 1.2, 3.0]}, "legend": null}
      }
    },
    {
      "width": 416, "height": 196,
      "data": {"name": "sq"},
      "transform": [{"filter": "datum.panel == 'C'"}],
      "layer": [
        {
          "mark": {"type": "rect", "width": 18, "height": 17, "cornerRadius": 3, "stroke": "#3b2424", "strokeWidth": 1.2},
          "encoding": {
            "x": {"field": "infection", "type": "nominal", "scale": {"type": "point", "domain": ["first", "mid", "second"], "padding": 0.981},
              "axis": {"orient": "top", "title": null, "domain": false, "ticks": false, "tickSize": 0, "grid": false, "labelAngle": 0, "labelAlign": "center", "labelBaseline": "alphabetic", "labelPadding": -6.7, "labelFont": "Lato", "labelFontWeight": "bold", "labelFontSize": 15, "labelLineHeight": 18.5, "labelColor": "#a53434", "labelOverlap": false, "labelBound": false, "labelFlush": false,
                "labelOffset": {"condition": {"test": "datum.value == 'first'", "value": -7}, "value": 4.5},
                "labelExpr": "datum.value == 'first' ? ['First infection', 'Antigen - A'] : datum.value == 'second' ? ['Second infection', 'Antigen - D'] : ''"}},
            "y": {"field": "antigen", "type": "nominal", "scale": {"type": "point", "domain": ["Antigen - A", "Antigen - B", "Antigen - C", "Antigen - D", "Antigen - E", "Antigen - F"], "range": [53, 198], "padding": 0},
              "axis": {"title": "C", "titleAngle": 0, "titleX": 23, "titleY": 12.2, "titleAlign": "center", "titleBaseline": "alphabetic", "titleFont": "Liberation Sans", "titleFontSize": 21, "titleFontWeight": "normal", "titleColor": "#111111", "labels": false, "ticks": false, "domain": false, "grid": false}},
            "color": {"field": "bin", "type": "ordinal",
              "scale": {"domain": ["> 2187000", "729000 - 2187000", "243001 - 729000", "81001 - 243000", "27000 - 81000", "9000 - 27000", "3001 - 9000", "1001 - 3000", "0 - 1000"], "range": ["#231f20", "#581818", "#980c0c", "#bb0f0f", "#f01414", "#f48c8c", "#f8b0b0", "#fcd6d6", "#ffffff"]},
              "legend": null}
          }
        },
        {
          "transform": [{"filter": "datum.infection == 'first'"}],
          "mark": {"type": "text", "font": "DejaVu Sans", "fontSize": 23, "baseline": "alphabetic", "align": "center", "dy": 8, "color": "#141414"},
          "encoding": {"x": {"datum": "mid", "type": "nominal"}, "y": {"field": "antigen", "type": "nominal"}, "text": {"field": "antigen", "type": "nominal"}}
        }
      ]
    },
    {
      "width": 311, "height": 196,
      "view": {"stroke": "#1e1e1e", "strokeWidth": 1.2},
      "data": {"name": "curvesC"},
      "mark": {"type": "line", "clip": true},
      "encoding": {
        "x": {"field": "day", "type": "quantitative", "scale": {"domain": [-6.4, 125.9], "nice": false, "zero": false},
          "axis": {"title": "Time (days)", "values": [0, 20, 40, 60, 80, 100, 120], "format": "d", "grid": false, "labelFont": "DejaVu Sans", "labelFontSize": 7, "labelColor": "#333333", "labelPadding": 1.5, "titleFont": "DejaVu Sans", "titleFontSize": 8.5, "titleFontWeight": "normal", "titleColor": "#1e1e1e", "titlePadding": 1.5, "tickSize": 3, "tickColor": "#1e1e1e", "domainColor": "#1e1e1e"}},
        "y": {"field": "count", "type": "quantitative", "scale": {"type": "log", "domain": [2.13, 8050000], "nice": false},
          "axis": {"title": "Abs cells (counts)", "values": [10, 100, 1000, 10000, 100000, 1000000], "labelExpr": "'10' + ['⁰','¹','²','³','⁴','⁵','⁶','⁷'][round(log(datum.value) / LN10)]", "grid": false, "labelFont": "DejaVu Sans", "labelFontSize": 7, "labelColor": "#333333", "labelPadding": 2, "titleFont": "DejaVu Sans", "titleFontSize": 8.5, "titleFontWeight": "normal", "titleColor": "#1e1e1e", "titlePadding": 2, "tickSize": 3, "tickColor": "#1e1e1e", "domainColor": "#1e1e1e"}},
        "color": {"field": "antigen", "type": "nominal", "scale": {"domain": ["Antigen - A", "Antigen - B", "Antigen - C", "Antigen - D", "Antigen - E", "Antigen - F"], "range": ["#1f77b4", "#8c564b", "#ff7f0e", "#d62728", "#2ca02c", "#9467bd"]},
          "legend": {"orient": "bottom-right", "offset": 6, "title": null, "fillColor": "white", "strokeColor": "#d0d0d0", "cornerRadius": 2, "padding": 4, "labelFont": "DejaVu Sans", "labelFontSize": 8.5, "labelColor": "#222222", "labelOffset": 11, "symbolType": "M-1.2,0L3,0", "symbolSize": 64, "symbolStrokeWidth": 1.4, "symbolFillColor": "transparent", "rowPadding": 0}},
        "strokeDash": {"field": "antigen", "type": "nominal", "scale": {"domain": ["Antigen - A", "Antigen - B", "Antigen - C", "Antigen - D", "Antigen - E", "Antigen - F"], "range": [[4, 2], [1, 0], [5, 2, 1, 2], [1, 0], [1, 0], [1, 0]]},
          "legend": {"orient": "bottom-right", "offset": 6, "title": null, "fillColor": "white", "strokeColor": "#d0d0d0", "cornerRadius": 2, "padding": 4, "labelFont": "DejaVu Sans", "labelFontSize": 8.5, "labelColor": "#222222", "labelOffset": 11, "symbolType": "M-1.2,0L3,0", "symbolSize": 64, "symbolStrokeWidth": 1.4, "symbolFillColor": "transparent", "rowPadding": 0}},
        "strokeWidth": {"field": "antigen", "type": "nominal", "scale": {"type": "ordinal", "domain": ["Antigen - A", "Antigen - B", "Antigen - C", "Antigen - D", "Antigen - E", "Antigen - F"], "range": [1.1, 2.6, 1.1, 3.6, 1.2, 3.0]}, "legend": null}
      }
    },
    {
      "width": 416, "height": 196,
      "data": {"name": "sq"},
      "transform": [{"filter": "datum.panel == 'D'"}],
      "layer": [
        {
          "mark": {"type": "rect", "width": 18, "height": 17, "cornerRadius": 3, "stroke": "#3b2424", "strokeWidth": 1.2},
          "encoding": {
            "x": {"field": "infection", "type": "nominal", "scale": {"type": "point", "domain": ["first", "mid", "second"], "padding": 0.981},
              "axis": {"orient": "top", "title": null, "domain": false, "ticks": false, "tickSize": 0, "grid": false, "labelAngle": 0, "labelAlign": "center", "labelBaseline": "alphabetic", "labelPadding": -6.1, "labelFont": "Lato", "labelFontWeight": "bold", "labelFontSize": 15, "labelLineHeight": 19, "labelColor": "#a53434", "labelOverlap": false, "labelBound": false, "labelFlush": false,
                "labelOffset": {"condition": {"test": "datum.value == 'first'", "value": -7}, "value": 4.5},
                "labelExpr": "datum.value == 'first' ? ['First infection', 'Antigen - D'] : datum.value == 'second' ? ['Second infection', 'Antigen - A'] : ''"}},
            "y": {"field": "antigen", "type": "nominal", "scale": {"type": "point", "domain": ["Antigen - A", "Antigen - B", "Antigen - C", "Antigen - D", "Antigen - E", "Antigen - F"], "range": [53, 198], "padding": 0},
              "axis": {"title": "D", "titleAngle": 0, "titleX": 23, "titleY": 11.2, "titleAlign": "center", "titleBaseline": "alphabetic", "titleFont": "Liberation Sans", "titleFontSize": 21, "titleFontWeight": "normal", "titleColor": "#111111", "labels": false, "ticks": false, "domain": false, "grid": false}},
            "color": {"field": "bin", "type": "ordinal",
              "scale": {"domain": ["> 2187000", "729000 - 2187000", "243001 - 729000", "81001 - 243000", "27000 - 81000", "9000 - 27000", "3001 - 9000", "1001 - 3000", "0 - 1000"], "range": ["#231f20", "#581818", "#980c0c", "#bb0f0f", "#f01414", "#f48c8c", "#f8b0b0", "#fcd6d6", "#ffffff"]},
              "legend": null}
          }
        },
        {
          "transform": [{"filter": "datum.infection == 'first'"}],
          "mark": {"type": "text", "font": "DejaVu Sans", "fontSize": 23, "baseline": "alphabetic", "align": "center", "dy": 8, "color": "#141414"},
          "encoding": {"x": {"datum": "mid", "type": "nominal"}, "y": {"field": "antigen", "type": "nominal"}, "text": {"field": "antigen", "type": "nominal"}}
        }
      ]
    },
    {
      "width": 311, "height": 196,
      "view": {"stroke": "#1e1e1e", "strokeWidth": 1.2},
      "data": {"name": "curvesD"},
      "mark": {"type": "line", "clip": true},
      "encoding": {
        "x": {"field": "day", "type": "quantitative", "scale": {"domain": [-5.4, 87.2], "nice": false, "zero": false},
          "axis": {"title": "Time (days)", "values": [0, 20, 40, 60, 80], "format": "d", "grid": false, "labelFont": "DejaVu Sans", "labelFontSize": 7, "labelColor": "#333333", "labelPadding": 1.5, "titleFont": "DejaVu Sans", "titleFontSize": 8.5, "titleFontWeight": "normal", "titleColor": "#1e1e1e", "titlePadding": 1.5, "tickSize": 3, "tickColor": "#1e1e1e", "domainColor": "#1e1e1e"}},
        "y": {"field": "count", "type": "quantitative", "scale": {"type": "log", "domain": [14.3, 4740000], "nice": false},
          "axis": {"title": "Abs cells (counts)", "values": [100, 1000, 10000, 100000, 1000000], "labelExpr": "'10' + ['⁰','¹','²','³','⁴','⁵','⁶','⁷'][round(log(datum.value) / LN10)]", "grid": false, "labelFont": "DejaVu Sans", "labelFontSize": 7, "labelColor": "#333333", "labelPadding": 2, "titleFont": "DejaVu Sans", "titleFontSize": 8.5, "titleFontWeight": "normal", "titleColor": "#1e1e1e", "titlePadding": 2, "tickSize": 3, "tickColor": "#1e1e1e", "domainColor": "#1e1e1e"}},
        "color": {"field": "antigen", "type": "nominal", "scale": {"domain": ["Antigen - A", "Antigen - B", "Antigen - C", "Antigen - D", "Antigen - E", "Antigen - F"], "range": ["#1f77b4", "#8c564b", "#ff7f0e", "#d62728", "#2ca02c", "#9467bd"]},
          "legend": {"orient": "bottom-right", "offset": 8, "title": null, "fillColor": "white", "strokeColor": "#d0d0d0", "cornerRadius": 2, "padding": 4, "labelFont": "DejaVu Sans", "labelFontSize": 8.5, "labelColor": "#222222", "labelOffset": 11, "symbolType": "M-1.2,0L3,0", "symbolSize": 64, "symbolStrokeWidth": 1.4, "symbolFillColor": "transparent", "rowPadding": 0}},
        "strokeDash": {"field": "antigen", "type": "nominal", "scale": {"domain": ["Antigen - A", "Antigen - B", "Antigen - C", "Antigen - D", "Antigen - E", "Antigen - F"], "range": [[4, 2], [1, 0], [5, 2, 1, 2], [1, 0], [1, 0], [1, 0]]},
          "legend": {"orient": "bottom-right", "offset": 8, "title": null, "fillColor": "white", "strokeColor": "#d0d0d0", "cornerRadius": 2, "padding": 4, "labelFont": "DejaVu Sans", "labelFontSize": 8.5, "labelColor": "#222222", "labelOffset": 11, "symbolType": "M-1.2,0L3,0", "symbolSize": 64, "symbolStrokeWidth": 1.4, "symbolFillColor": "transparent", "rowPadding": 0}},
        "strokeWidth": {"field": "antigen", "type": "nominal", "scale": {"type": "ordinal", "domain": ["Antigen - A", "Antigen - B", "Antigen - C", "Antigen - D", "Antigen - E", "Antigen - F"], "range": [1.1, 2.6, 1.1, 3.6, 1.2, 3.0]}, "legend": null}
      }
    }
  ]
}
